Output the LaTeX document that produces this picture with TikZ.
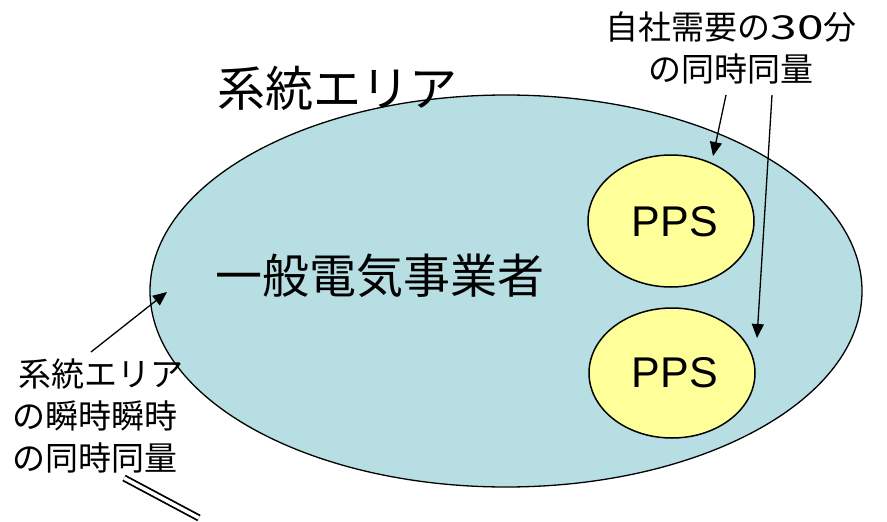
\documentclass[tikz,border=0pt]{standalone}
\usepackage{fontspec}
\usepackage{graphicx}
\setmainfont{Liberation Sans}
\newfontfamily\jp{Noto Sans CJK JP}
\usetikzlibrary{arrows.meta}
\definecolor{areablue}{RGB}{183,222,226}
\definecolor{ppsyellow}{RGB}{255,255,153}
\begin{document}
\begin{tikzpicture}[x=1pt,y=-1pt,
  area/.style={draw=black,line width=1.3pt,fill=areablue},
  pps/.style={draw=black,line width=1.5pt,fill=ppsyellow},
  jplabel/.style={font=\jp\fontsize{33}{42}\selectfont,align=center,inner sep=0pt},
  biglabel/.style={font=\jp\fontsize{48}{50}\selectfont,inner sep=0pt},
  ptr/.style={-{Triangle[length=14pt,width=12pt]},line width=1.3pt}]
\useasboundingbox (0,0) rectangle (887,522);
\draw[area] (506,291) ellipse [x radius=356,y radius=196];
\draw[pps] (671,221) ellipse [x radius=83,y radius=66];
\draw[pps] (672,373) ellipse [x radius=83,y radius=65];
\node[font=\fontsize{43}{45}\selectfont,inner sep=0pt] (pps1) at (675,222) {PPS};
\node[font=\fontsize{43}{45}\selectfont,inner sep=0pt] (pps2) at (675,373) {PPS};
\node[biglabel] (title) at (337,88) {系統エリア};
\node[font=\jp\fontsize{47}{50}\selectfont,inner sep=0pt] (gen) at (380,276) {一般電気事業者};
\node[jplabel] (own) at (731,48) {自社需要の\scalebox{1.45}[1]{30}分\\の同時同量};
\node[jplabel,align=left] (inst) at (98,416) {\,系統エリア\\の瞬時瞬時\\の同時同量};
\coordinate (a1s) at (726,95);
\coordinate (a1e) at (713,156);
\coordinate (a2s) at (772,95);
\coordinate (a2e) at (757,338);
\coordinate (a3s) at (91,352);
\coordinate (a3e) at (167,292);
\draw[ptr] (a1s) -- (a1e);
\draw[ptr] (a2s) -- (a2e);
\draw[ptr] (a3s) -- (a3e);
\coordinate (d1) at (124,478);
\coordinate (d2) at (199,518);
\draw[double=white,double distance=3.5pt,line width=1.8pt] (d1) -- (d2);
\end{tikzpicture}
\end{document}
